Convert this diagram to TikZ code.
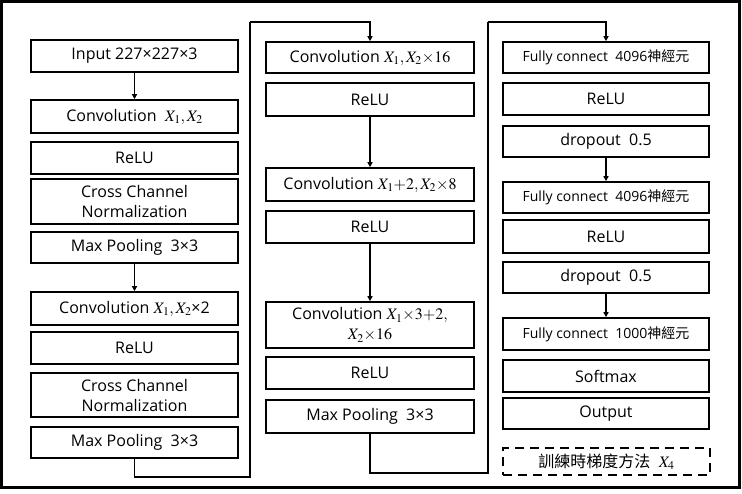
\documentclass[tikz,border=0pt]{standalone}
\usepackage{mathptmx}
\usepackage{fontspec}
\setmainfont{Open Sans}
\newfontfamily\cjk{Noto Sans CJK TC}
\usetikzlibrary{arrows.meta}
\begin{document}
\begin{tikzpicture}[x=1pt,y=-1pt,
  box/.style={draw, line width=1.6pt, inner sep=0pt, align=center,
    font=\fontsize{16}{20}\selectfont},
  w1/.style={box, minimum width=207pt},
  w2/.style={box, minimum width=208pt},
  w3/.style={box, minimum width=206pt},
  fc/.style={font=\fontsize{14}{16}\selectfont},
  conn/.style={line width=1.3pt},
  arr/.style={conn, -{Triangle[length=5pt,width=5pt]}}]
\useasboundingbox (0,0) rectangle (742,493);
\draw[line width=3pt] (1.5,1.5) rectangle (739.5,487.5);
% column 1
\node[w1, minimum height=32pt] (in) at (134.5,56) {Input 227×227×3};
\node[w1, minimum height=33pt] (c1) at (134.5,116.5) {Convolution\ \ $X_1, X_2$};
\node[w1, minimum height=32pt] (r1) at (134.5,158) {ReLU};
\node[w1, minimum height=45pt] (n1) at (134.5,201.5) {Cross Channel\\Normalization};
\node[w1, minimum height=31pt] (p1) at (134.5,247.5) {Max Pooling\ \ 3×3};
\node[w1, minimum height=33pt] (c2) at (134.5,308.5) {Convolution $X_1, X_2$×2};
\node[w1, minimum height=32pt] (r2) at (134.5,348) {ReLU};
\node[w1, minimum height=44pt] (n2) at (134.5,395) {Cross Channel\\Normalization};
\node[w1, minimum height=31pt] (p2) at (134.5,442.5) {Max Pooling\ \ 3×3};
% column 2
\node[w2, minimum height=31pt] (c3) at (370,57.5) {Convolution $X_1, X_2{\times}16$};
\node[w2, minimum height=33pt] (r3) at (370,99.5) {ReLU};
\node[w2, minimum height=33pt] (c4) at (370,184.5) {Convolution $X_1{+}2, X_2{\times}8$};
\node[w2, minimum height=32pt] (r4) at (370,227) {ReLU};
\node[w2, minimum height=46pt] (c5) at (370,325) {Convolution $X_1{\times}3{+}2,$\\$X_2{\times}16$};
\node[w2, minimum height=32pt] (r5) at (370,373) {ReLU};
\node[w2, minimum height=33pt] (p3) at (370,416.5) {Max Pooling\ \ 3×3};
% column 3
\node[w3, fc, minimum height=31pt] (f1) at (606,57.5) {Fully connect\ \ 4096{\cjk 神經元}};
\node[w3, minimum height=32pt] (r6) at (606,99) {ReLU};
\node[w3, minimum height=31pt] (d1) at (606,141.5) {dropout\ \ 0.5};
\node[w3, fc, minimum height=31pt] (f2) at (606,197.5) {Fully connect\ \ 4096{\cjk 神經元}};
\node[w3, minimum height=33pt] (r7) at (606,236.5) {ReLU};
\node[w3, minimum height=31pt] (d2) at (606,277.5) {dropout\ \ 0.5};
\node[w3, fc, minimum height=32pt] (f3) at (606,334) {Fully connect\ \ 1000{\cjk 神經元}};
\node[w3, minimum height=32pt] (sm) at (606,376) {Softmax};
\node[w3, minimum height=31pt] (out) at (606,413.5) {Output};
\node[w3, minimum width=207pt, minimum height=27pt, line width=2.5pt,
  dash pattern=on 9pt off 6pt] (tr) at (606.5,461.5) {{\cjk\fontsize{16}{18}\selectfont 訓練時梯度方法}\ \ $X_4$};
% connectors
\coordinate (a2) at (250,477);
\coordinate (a3) at (250,22);
\coordinate (b2) at (488,473);
\coordinate (b3) at (488,22);
\draw[arr] (in) -- (c1);
\draw[arr] (p1) -- (c2);
\draw[conn] (p2.south) |- (a2) -- (a3);
\draw[arr] (a3) -| (c3.north);
\draw[arr] (r3) -- (c4);
\draw[arr] (r4) -- (c5);
\draw[conn] (p3.south) |- (b2) -- (b3);
\draw[arr] (b3) -| (f1.north);
\draw[arr] (d1) -- (f2);
\draw[arr] (d2) -- (f3);
\end{tikzpicture}
\end{document}
